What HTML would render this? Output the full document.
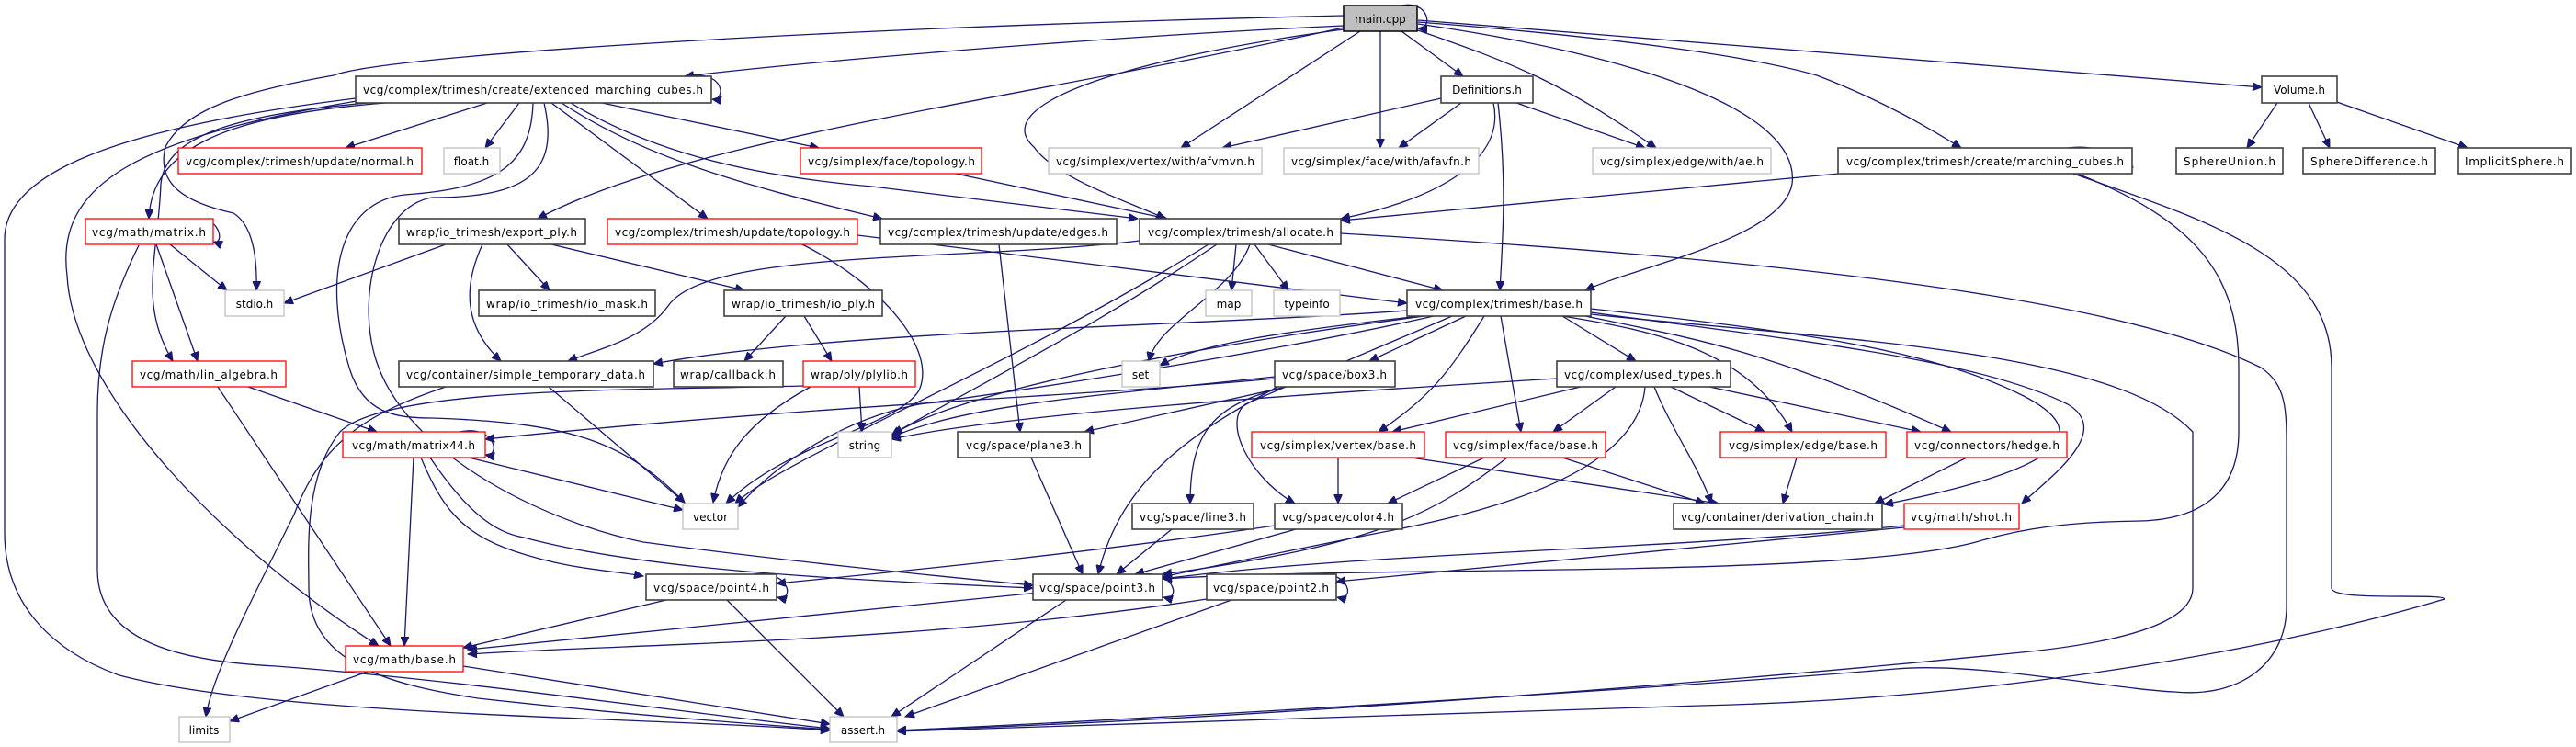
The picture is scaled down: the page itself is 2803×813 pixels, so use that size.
<!DOCTYPE html>
<html><head><meta charset="utf-8"><style>
html,body{margin:0;padding:0;background:#fff;}
svg{display:block;}
text{font-family:"DejaVu Sans","Liberation Sans",sans-serif;font-size:12px;fill:#000;}
.e{fill:none;stroke:#191970;stroke-width:1.3;marker-end:url(#a);}
.k{fill:#fff;stroke:#404040;stroke-width:1.6;}
.r{fill:#fff;stroke:#ff0000;stroke-width:1.3;}
.g{fill:#fff;stroke:#bfbfbf;stroke-width:1.3;}
</style></head><body>
<svg width="2803" height="813" viewBox="0 0 2803 813" xmlns="http://www.w3.org/2000/svg">
<defs><marker id="a" markerWidth="11" markerHeight="9" refX="10" refY="4.5" orient="auto" markerUnits="userSpaceOnUse"><path d="M0,0 L10,4.5 L0,9 z" fill="#191970" stroke="#191970"/></marker></defs>
<g>
<!-- main.cpp edges -->
<path class="e" d="M1525,6 C1555,0 1560,32 1543,31"/>
<path class="e" d="M1462,28 C1200,40 900,65 745,83"/>
<path class="e" d="M1462,17 C900,30 420,60 363,82 C260,100 200,120 180,160 C170,200 200,220 254,232 C275,245 280,280 279,316"/>
<path class="e" d="M1462,30 C1100,110 750,150 585,238"/>
<path class="e" d="M1462,32 C1250,60 1070,110 1125,160 C1150,195 1230,220 1268,238"/>
<path class="e" d="M1480,34 L1285,161"/>
<path class="e" d="M1502,34 L1502,161"/>
<path class="e" d="M1525,34 L1592,83"/>
<path class="e" d="M1540,32 C1650,70 1700,90 1802,161"/>
<path class="e" d="M1543,26 C1780,60 1960,120 1950,200 C1940,260 1780,290 1725,316"/>
<path class="e" d="M1543,24 C1750,40 1900,60 1977,82 C2050,110 2100,140 2134,161"/>
<path class="e" d="M1543,22 L2461,95"/>
<!-- extended -->
<path class="e" d="M745,83 C790,75 790,110 775,108"/>
<path class="e" d="M530,112 L376,161"/>
<path class="e" d="M565,112 L528,161"/>
<path class="e" d="M655,112 L891,161"/>
<path class="e" d="M600,112 L770,238"/>
<path class="e" d="M621,112 C700,160 800,190 949,203 L1238,238"/>
<path class="e" d="M611,112 C700,170 800,200 960,238"/>
<path class="e" d="M420,112 C250,125 165,160 162,238"/>
<path class="e" d="M400,112 C250,125 180,150 175,200 C172,280 150,330 188,393"/>
<path class="e" d="M387,107 C120,140 5,190 5,260 L5,580 C5,660 60,710 130,735 C300,780 700,780 903,795"/>
<path class="e" d="M388,110 C150,150 60,200 73,300 C80,430 250,600 412,703"/>
<path class="e" d="M580,112 C578,180 540,205 440,212 C370,220 350,300 380,400 C395,450 430,455 470,455 C620,460 680,480 745,547"/>
<path class="e" d="M592,112 C610,190 570,215 470,215 C410,225 385,330 412,400 C450,500 600,570 700,590 C850,610 1000,625 1124,637"/>
<!-- matrix.h -->
<path class="e" d="M210,240 C240,232 245,268 232,263"/>
<path class="e" d="M185,266 L247,316"/>
<path class="e" d="M170,266 L215,393"/>
<path class="e" d="M151,267 C120,330 106,380 106,450 L106,620 C106,700 200,720 300,725 C500,740 700,770 903,793"/>
<!-- export_ply -->
<path class="e" d="M485,266 L309,330"/>
<path class="e" d="M552,266 L598,316"/>
<path class="e" d="M600,266 L810,316"/>
<path class="e" d="M525,266 C500,320 510,360 545,393"/>
<!-- update topology / edges / face topology -->
<path class="e" d="M933,256 L1531,330"/>
<path class="e" d="M873,266 C960,310 1020,380 1000,425 C975,465 860,480 790,548"/>
<path class="e" d="M1087,266 L1110,470"/>
<path class="e" d="M1040,189 L1270,238"/>
<!-- allocate -->
<path class="e" d="M1345,266 L1340,316"/>
<path class="e" d="M1365,266 L1402,316"/>
<path class="e" d="M1380,266 L1570,316"/>
<path class="e" d="M1360,266 C1340,320 1260,350 1250,393"/>
<path class="e" d="M1324,266 C1200,350 1100,400 972,472"/>
<path class="e" d="M1315,266 C1100,400 850,500 800,548"/>
<path class="e" d="M1240,262 C1050,285 770,270 727,333 C700,370 650,380 618,393"/>
<path class="e" d="M1459,254 C1900,280 2300,320 2460,400 C2490,420 2488,450 2488,500 L2488,660 C2488,720 2440,760 2366,753 C2300,750 2150,720 2063,728 C1800,750 1300,780 976,795"/>
<!-- Definitions -->
<path class="e" d="M1568,107 L1330,161"/>
<path class="e" d="M1590,112 L1522,161"/>
<path class="e" d="M1650,112 L1790,161"/>
<path class="e" d="M1625,112 C1640,180 1550,220 1459,238"/>
<path class="e" d="M1630,112 C1640,200 1635,260 1632,316"/>
<!-- Volume -->
<path class="e" d="M2478,112 L2445,161"/>
<path class="e" d="M2512,112 L2535,161"/>
<path class="e" d="M2540,110 L2685,161"/>
<!-- marching cubes -->
<path class="e" d="M2250,161 C2300,155 2310,185 2321,182"/>
<path class="e" d="M2001,189 L1459,240"/>
<path class="e" d="M2260,189 C2390,240 2436,300 2436,400 L2436,470 C2436,540 2390,565 2330,567 C2250,568 2200,575 2150,590 C2000,630 1500,615 1265,630"/>
<path class="e" d="M2256,189 C2400,240 2537,280 2537,400 L2537,640 C2537,655 2660,645 2660,652 C2500,700 2200,760 1850,768 C1500,780 1200,790 976,796"/>
<!-- io_ply / plylib / std_temp -->
<path class="e" d="M855,344 L810,393"/>
<path class="e" d="M875,344 L905,393"/>
<path class="e" d="M935,421 L938,470"/>
<path class="e" d="M882,421 C810,460 785,500 776,547"/>
<path class="e" d="M874,420 C700,425 420,420 370,470 C330,520 336,600 336,640 C336,720 420,745 520,760 C700,780 850,790 903,794"/>
<path class="e" d="M485,421 C400,450 350,480 320,560 C260,680 230,740 224,780"/>
<path class="e" d="M597,421 L745,547"/>
<!-- trimesh base -->
<path class="e" d="M1531,338 C1300,355 900,360 711,396"/>
<path class="e" d="M1545,344 C1400,360 1300,375 1262,398"/>
<path class="e" d="M1550,344 C1350,370 1050,420 970,474"/>
<path class="e" d="M1560,344 C1400,380 1150,420 1000,440 C900,460 830,520 803,552"/>
<path class="e" d="M1595,344 L1490,393"/>
<path class="e" d="M1700,344 L1780,393"/>
<path class="e" d="M1615,344 C1580,400 1560,430 1500,470"/>
<path class="e" d="M1633,344 L1655,470"/>
<path class="e" d="M1700,344 C1800,360 1900,380 1950,470"/>
<path class="e" d="M1725,344 C1850,370 1920,380 2123,470"/>
<path class="e" d="M1731,336 C1950,360 2100,380 2200,430 C2280,470 2250,510 2050,549"/>
<path class="e" d="M1731,340 C1950,370 2150,390 2250,440 C2300,470 2230,520 2200,548"/>
<path class="e" d="M1731,342 C2000,370 2300,380 2386,470 L2386,640 C2386,680 2300,700 2200,710 C1800,750 1300,785 976,795"/>
<path class="e" d="M1580,344 C1520,370 1400,420 1355,440 C1330,460 1360,520 1409,548"/>
<!-- box3 -->
<path class="e" d="M1387,412 C1200,430 900,440 528,478"/>
<path class="e" d="M1400,421 C1320,440 1295,470 1295,548"/>
<path class="e" d="M1390,421 C1300,470 1220,520 1195,625"/>
<path class="e" d="M1400,421 L1180,470"/>
<path class="e" d="M1387,410 C1200,430 1050,440 970,476"/>
<!-- used types -->
<path class="e" d="M1694,412 C1400,430 1100,450 970,478"/>
<path class="e" d="M1720,421 L1515,470"/>
<path class="e" d="M1758,421 L1690,470"/>
<path class="e" d="M1818,421 L1920,470"/>
<path class="e" d="M1860,421 L2090,470"/>
<path class="e" d="M1800,421 C1820,470 1850,510 1862,548"/>
<path class="e" d="M1790,421 C1785,480 1720,540 1500,580 C1400,600 1300,620 1265,628"/>
<!-- simplex bases -->
<path class="e" d="M1456,498 L1456,548"/>
<path class="e" d="M1535,498 L1870,548"/>
<path class="e" d="M1615,498 L1510,548"/>
<path class="e" d="M1700,498 L1855,548"/>
<path class="e" d="M1640,498 C1560,560 1500,590 1300,620 L1265,625"/>
<path class="e" d="M1955,498 L1940,548"/>
<path class="e" d="M2140,498 L2040,548"/>
<path class="e" d="M2072,572 C1800,600 1500,600 1265,630"/>
<path class="e" d="M2072,574 C1800,600 1600,620 1454,633"/>
<!-- lin algebra / matrix44 -->
<path class="e" d="M270,421 L410,470"/>
<path class="e" d="M237,421 L425,703"/>
<path class="e" d="M500,470 C540,462 545,498 528,495"/>
<path class="e" d="M510,498 L743,555"/>
<path class="e" d="M450,498 L440,703"/>
<path class="e" d="M458,498 C480,550 500,580 560,600 C620,620 660,620 700,627"/>
<path class="e" d="M468,498 C510,560 540,580 570,585 C700,620 900,630 1124,640"/>
<!-- color4 line3 plane3 -->
<path class="e" d="M1410,576 L1235,625"/>
<path class="e" d="M1387,572 C1200,600 1000,620 845,635"/>
<path class="e" d="M1275,576 L1215,625"/>
<path class="e" d="M1122,498 L1178,625"/>
<!-- points -->
<path class="e" d="M820,625 C860,620 865,655 846,650"/>
<path class="e" d="M725,653 L504,705"/>
<path class="e" d="M791,653 L918,780"/>
<path class="e" d="M1240,625 C1280,620 1285,655 1266,650"/>
<path class="e" d="M1130,645 L509,707"/>
<path class="e" d="M1160,653 L970,780"/>
<path class="e" d="M1430,625 C1470,620 1475,655 1455,650"/>
<path class="e" d="M1313,652 C1000,700 700,700 509,712"/>
<path class="e" d="M1340,653 L985,780"/>
<path class="e" d="M400,731 L250,785"/>
<path class="e" d="M504,725 L903,788"/>
</g>
<g>
<rect x="1462" y="6" width="80" height="28" fill="#bfbfbf" stroke="#000" stroke-width="1.5"/><text x="1502" y="25" text-anchor="middle">main.cpp</text>

<rect class="k" x="387" y="83" width="387" height="29"/><text x="580" y="102" text-anchor="middle" textLength="370">vcg/complex/trimesh/create/extended_marching_cubes.h</text>
<rect class="k" x="1568" y="83" width="100" height="29"/><text x="1618" y="102" text-anchor="middle">Definitions.h</text>
<rect class="k" x="2461" y="83" width="82" height="29"/><text x="2502" y="102" text-anchor="middle">Volume.h</text>

<rect class="r" x="194" y="161" width="265" height="28"/><text x="326" y="180" text-anchor="middle" textLength="248">vcg/complex/trimesh/update/normal.h</text>
<rect class="g" x="483" y="161" width="61" height="28"/><text x="513" y="180" text-anchor="middle">float.h</text>
<rect class="r" x="871" y="161" width="197" height="28"/><text x="970" y="180" text-anchor="middle" textLength="182">vcg/simplex/face/topology.h</text>
<rect class="g" x="1141" y="161" width="232" height="28"/><text x="1257" y="180" text-anchor="middle" textLength="216">vcg/simplex/vertex/with/afvmvn.h</text>
<rect class="g" x="1397" y="161" width="212" height="28"/><text x="1503" y="180" text-anchor="middle" textLength="196">vcg/simplex/face/with/afavfn.h</text>
<rect class="g" x="1733" y="161" width="194" height="28"/><text x="1830" y="180" text-anchor="middle" textLength="178">vcg/simplex/edge/with/ae.h</text>
<rect class="k" x="2000" y="161" width="320" height="28"/><text x="2160" y="180" text-anchor="middle" textLength="302">vcg/complex/trimesh/create/marching_cubes.h</text>
<rect class="k" x="2368" y="161" width="116" height="28"/><text x="2426" y="180" text-anchor="middle" textLength="100">SphereUnion.h</text>
<rect class="k" x="2506" y="161" width="144" height="28"/><text x="2578" y="180" text-anchor="middle" textLength="128">SphereDifference.h</text>
<rect class="k" x="2675" y="161" width="123" height="28"/><text x="2736" y="180" text-anchor="middle" textLength="108">ImplicitSphere.h</text>

<rect class="r" x="93" y="238" width="139" height="28"/><text x="162" y="257" text-anchor="middle" textLength="124">vcg/math/matrix.h</text>
<rect class="k" x="434" y="238" width="203" height="28"/><text x="535" y="257" text-anchor="middle" textLength="186">wrap/io_trimesh/export_ply.h</text>
<rect class="r" x="661" y="238" width="272" height="28"/><text x="797" y="257" text-anchor="middle" textLength="256">vcg/complex/trimesh/update/topology.h</text>
<rect class="k" x="958" y="238" width="257" height="28"/><text x="1086" y="257" text-anchor="middle" textLength="240">vcg/complex/trimesh/update/edges.h</text>
<rect class="k" x="1240" y="238" width="219" height="28"/><text x="1350" y="257" text-anchor="middle" textLength="202">vcg/complex/trimesh/allocate.h</text>

<rect class="g" x="245" y="316" width="64" height="28"/><text x="277" y="335" text-anchor="middle">stdio.h</text>
<rect class="k" x="521" y="316" width="192" height="28"/><text x="617" y="335" text-anchor="middle" textLength="176">wrap/io_trimesh/io_mask.h</text>
<rect class="k" x="788" y="316" width="172" height="28"/><text x="874" y="335" text-anchor="middle" textLength="156">wrap/io_trimesh/io_ply.h</text>
<rect class="g" x="1312" y="316" width="50" height="28"/><text x="1337" y="335" text-anchor="middle">map</text>
<rect class="g" x="1386" y="316" width="72" height="28"/><text x="1422" y="335" text-anchor="middle">typeinfo</text>
<rect class="k" x="1531" y="316" width="200" height="28"/><text x="1631" y="335" text-anchor="middle" textLength="182">vcg/complex/trimesh/base.h</text>

<rect class="r" x="144" y="393" width="167" height="28"/><text x="227" y="412" text-anchor="middle" textLength="150">vcg/math/lin_algebra.h</text>
<rect class="k" x="434" y="393" width="277" height="28"/><text x="572" y="412" text-anchor="middle" textLength="260">vcg/container/simple_temporary_data.h</text>
<rect class="k" x="733" y="393" width="119" height="28"/><text x="792" y="412" text-anchor="middle" textLength="104">wrap/callback.h</text>
<rect class="r" x="874" y="393" width="122" height="28"/><text x="935" y="412" text-anchor="middle" textLength="106">wrap/ply/plylib.h</text>
<rect class="g" x="1221" y="393" width="41" height="28"/><text x="1241" y="412" text-anchor="middle">set</text>
<rect class="k" x="1387" y="393" width="131" height="28"/><text x="1452" y="412" text-anchor="middle" textLength="114">vcg/space/box3.h</text>
<rect class="k" x="1694" y="393" width="189" height="28"/><text x="1788" y="412" text-anchor="middle" textLength="172">vcg/complex/used_types.h</text>

<rect class="r" x="373" y="470" width="155" height="28"/><text x="450" y="489" text-anchor="middle" textLength="134">vcg/math/matrix44.h</text>
<rect class="g" x="912" y="470" width="58" height="28"/><text x="941" y="489" text-anchor="middle">string</text>
<rect class="k" x="1042" y="470" width="144" height="28"/><text x="1114" y="489" text-anchor="middle" textLength="126">vcg/space/plane3.h</text>
<rect class="r" x="1362" y="470" width="188" height="28"/><text x="1456" y="489" text-anchor="middle" textLength="170">vcg/simplex/vertex/base.h</text>
<rect class="r" x="1573" y="470" width="174" height="28"/><text x="1660" y="489" text-anchor="middle" textLength="158">vcg/simplex/face/base.h</text>
<rect class="r" x="1872" y="470" width="180" height="28"/><text x="1962" y="489" text-anchor="middle" textLength="162">vcg/simplex/edge/base.h</text>
<rect class="r" x="2075" y="470" width="174" height="28"/><text x="2162" y="489" text-anchor="middle" textLength="158">vcg/connectors/hedge.h</text>

<rect class="g" x="743" y="548" width="60" height="28"/><text x="773" y="567" text-anchor="middle">vector</text>
<rect class="k" x="1232" y="548" width="132" height="28"/><text x="1298" y="567" text-anchor="middle" textLength="116">vcg/space/line3.h</text>
<rect class="k" x="1387" y="548" width="139" height="28"/><text x="1456" y="567" text-anchor="middle" textLength="122">vcg/space/color4.h</text>
<rect class="k" x="1821" y="548" width="227" height="28"/><text x="1934" y="567" text-anchor="middle" textLength="210">vcg/container/derivation_chain.h</text>
<rect class="r" x="2072" y="548" width="125" height="28"/><text x="2134" y="567" text-anchor="middle" textLength="110">vcg/math/shot.h</text>

<rect class="k" x="703" y="625" width="142" height="28"/><text x="774" y="644" text-anchor="middle" textLength="126">vcg/space/point4.h</text>
<rect class="k" x="1124" y="625" width="141" height="28"/><text x="1194" y="644" text-anchor="middle" textLength="126">vcg/space/point3.h</text>
<rect class="k" x="1313" y="625" width="141" height="28"/><text x="1383" y="644" text-anchor="middle" textLength="126">vcg/space/point2.h</text>

<rect class="r" x="376" y="703" width="128" height="28"/><text x="440" y="722" text-anchor="middle" textLength="112">vcg/math/base.h</text>

<rect class="g" x="195" y="780" width="55" height="28"/><text x="222" y="799" text-anchor="middle">limits</text>
<rect class="g" x="903" y="780" width="73" height="28"/><text x="939" y="799" text-anchor="middle">assert.h</text>
</g>
</svg>
</body></html>
